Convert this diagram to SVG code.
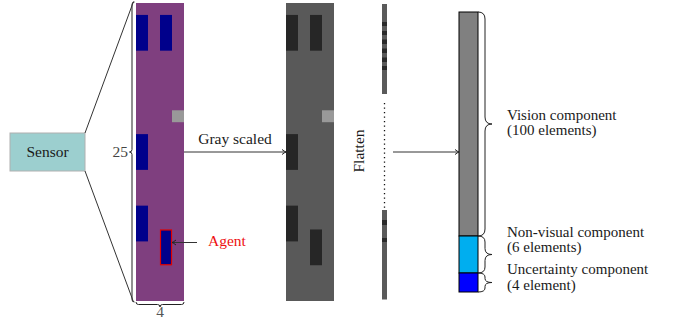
<svg xmlns="http://www.w3.org/2000/svg" width="673" height="322" viewBox="0 0 673 322">
<defs>
<style>
text{font-family:"Liberation Serif","Times New Roman",serif;font-size:15.5px;fill:#1a1a1a}
.lab{font-size:15px}
.ln{stroke:#333;stroke-width:1;fill:none}
.br{stroke:#222;stroke-width:1;fill:none}
.blue{fill:#00008b}
.dark{fill:#262626}
.lg{fill:#999999}
.strip{fill:#5a5a5a}
.band{fill:#2a2a2a}
</style>
<marker id="arr" markerWidth="8" markerHeight="8" refX="6" refY="4" orient="auto" markerUnits="userSpaceOnUse">
<path d="M2,1.5 Q4.5,3.5 6,4 Q4.5,4.5 2,6.5" fill="none" stroke="#222" stroke-width="1"/>
</marker>
</defs>
<rect width="673" height="322" fill="#ffffff"/>

<g id="sensor">
<rect x="10" y="133" width="75" height="38" fill="#9ccfcf" stroke="#b0b0b0" stroke-width="1"/>
<text x="47.5" y="157" text-anchor="middle">Sensor</text>
</g>

<g id="color-grid">
<rect x="136" y="3" width="48" height="298" fill="#7f3f7f"/>
<rect class="blue" x="136" y="14.92" width="12" height="35.76"/>
<rect class="blue" x="160" y="14.92" width="12" height="35.76"/>
<rect class="lg" x="172" y="110.28" width="12" height="11.92"/>
<rect class="blue" x="136" y="134.12" width="12" height="35.76"/>
<rect class="blue" x="136" y="205.64" width="12" height="35.76"/>
<rect class="blue" x="160.5" y="229.98" width="11" height="34.76" stroke="#e00000" stroke-width="1.2"/>
<path class="br" d="M134.5,2 q-2.5,0 -2.5,2.5 L132,149.5 q0,2.5 -2.5,2.5 q2.5,0 2.5,2.5 L132,299.5 q0,2.5 2.5,2.5"/>
<text x="128" y="157" text-anchor="end" style="fill:#444">25</text>
<path class="br" d="M136,302 q0,2.5 2.5,2.5 L157.5,304.5 q2.5,0 2.5,2.5 q0,-2.5 2.5,-2.5 L181.5,304.5 q2.5,0 2.5,-2.5"/>
<text x="160" y="317" text-anchor="middle" style="fill:#555">4</text>
</g>

<g id="agent-label">
<text x="208" y="245.5" style="fill:#ee1111">Agent</text>
</g>

<g id="gray-grid">
<rect x="286" y="3" width="48" height="298" fill="#595959"/>
<rect class="dark" x="286" y="14.92" width="12" height="35.76"/>
<rect class="dark" x="310" y="14.92" width="12" height="35.76"/>
<rect class="lg" x="322" y="110.28" width="12" height="11.92"/>
<rect class="dark" x="286" y="134.12" width="12" height="35.76"/>
<rect class="dark" x="286" y="205.64" width="12" height="35.76"/>
<rect class="dark" x="310" y="229.48" width="12" height="35.76"/>
</g>

<g id="flatten-strip">
<rect class="strip" x="382" y="4" width="5" height="90"/>
<rect class="band" x="382" y="22" width="5" height="4"/>
<rect class="band" x="382" y="31" width="5" height="4"/>
<rect class="band" x="382" y="39.5" width="5" height="4.5"/>
<rect class="band" x="382" y="48.5" width="5" height="4.5"/>
<rect class="band" x="382" y="57.5" width="5" height="4.5"/>
<rect class="band" x="382" y="66" width="5" height="4"/>
<line x1="384.5" y1="103" x2="384.5" y2="209" stroke="#111" stroke-width="1.3" stroke-dasharray="1.3 3.2"/>
<rect class="strip" x="382" y="210" width="5" height="89.5"/>
<rect class="band" x="382" y="220" width="5" height="5"/>
<rect class="band" x="382" y="238" width="5" height="4"/>
<text transform="translate(364,151) rotate(-90)" text-anchor="middle">Flatten</text>
</g>

<g id="feature-vector">
<rect x="459" y="12" width="19" height="224" fill="#808080" stroke="#000" stroke-width="1"/>
<rect x="459" y="236" width="19" height="37" fill="#00aeef" stroke="#000" stroke-width="1"/>
<rect x="459" y="273" width="19" height="19" fill="#0000ff" stroke="#000" stroke-width="1"/>
</g>

<g id="vision-component">
<path class="br" d="M478,12 q7,0 7,7 L485,117 q0,7 7,7 q-7,0 -7,7 L485,229 q0,7 -7,7"/>
<text class="lab" x="507" y="120">Vision component</text>
<text class="lab" x="507" y="135">(100 elements)</text>
</g>

<g id="nonvisual-component">
<path class="br" d="M478,236 q7,0 7,6 L485,248.5 q0,6 7,6 q-7,0 -7,6 L485,267 q0,6 -7,6"/>
<text class="lab" x="507" y="237">Non-visual component</text>
<text class="lab" x="507" y="252">(6 elements)</text>
</g>

<g id="uncertainty-component">
<path class="br" d="M478,273 q7,0 7,4 L485,278.5 q0,4 7,4 q-7,0 -7,4 L485,288 q0,4 -7,4"/>
<text class="lab" x="507" y="273.5">Uncertainty component</text>
<text class="lab" x="507" y="289.5">(4 element)</text>
</g>

<g id="connectors">
<line class="ln" x1="85" y1="133" x2="133.5" y2="1.5"/>
<line class="ln" x1="85" y1="171" x2="133.5" y2="302"/>
<line class="ln" x1="184" y1="152" x2="286" y2="152" marker-end="url(#arr)"/>
<text x="235" y="143.5" text-anchor="middle">Gray scaled</text>
<line class="ln" x1="197" y1="242.5" x2="172" y2="242.5" marker-end="url(#arr)"/>
<line class="ln" x1="393" y1="152" x2="459" y2="152" marker-end="url(#arr)"/>
</g>
</svg>
